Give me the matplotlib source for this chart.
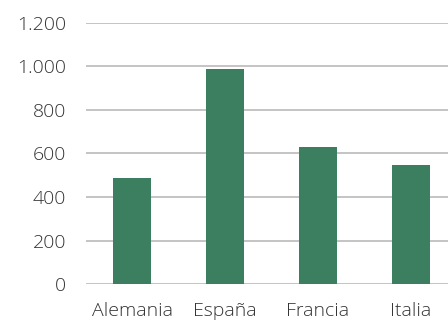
import matplotlib.pyplot as plt
from matplotlib.ticker import FuncFormatter

paises = ["Alemania", "España", "Francia", "Italia"]
valores = [488, 988, 631, 548]
ticks_y = [0, 200, 400, 600, 800, 1000, 1200]

plt.rcParams["font.family"] = ["Open Sans", "DejaVu Sans"]
plt.rcParams["font.weight"] = "light"

fig = plt.figure(figsize=(4.48, 3.22), dpi=100)
ax = fig.add_axes([0.191, 0.118, 0.809, 0.8106])

ax.bar(range(len(paises)), valores, width=0.41, color="#3b7e60", zorder=3)

ax.set_xlim(-0.5, 3.398)
ax.set_ylim(0, 1200)
ax.set_yticks(ticks_y)
ax.yaxis.set_major_formatter(FuncFormatter(lambda v, p: f"{int(v):,}".replace(",", ".")))
ax.set_xticks(range(len(paises)))
ax.set_xticklabels(paises)

ax.grid(axis="y", color="#b4b4b4", linewidth=1.1, zorder=0)
for s in ax.spines.values():
    s.set_visible(False)
ax.tick_params(axis="y", length=0, pad=14, labelsize=14, labelcolor="#333333")
ax.tick_params(axis="x", length=0, pad=13, labelsize=14, labelcolor="#333333")

fig.savefig("out.png", dpi=100)
